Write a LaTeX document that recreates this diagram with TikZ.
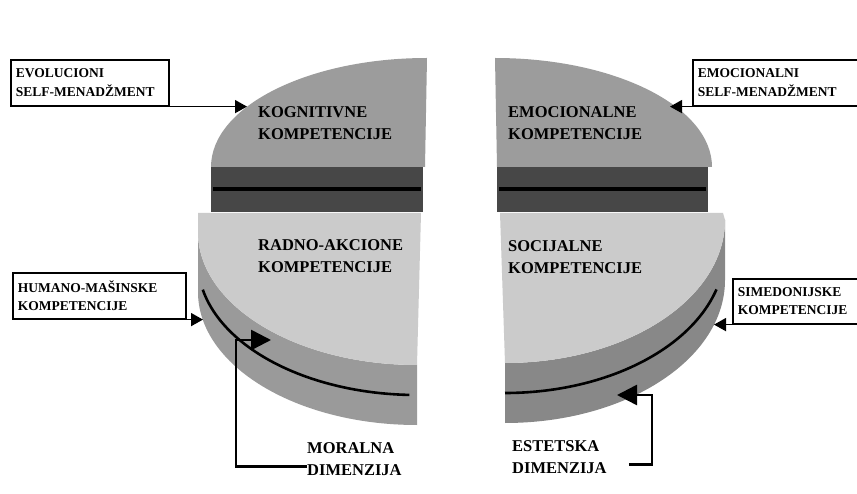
\documentclass[tikz,border=0pt]{standalone}
\usepackage{fontspec}
\setmainfont{Liberation Serif}
\usepackage{tikz}
\usetikzlibrary{arrows.meta, positioning}

\definecolor{backtop}{HTML}{9C9C9C}
\definecolor{backcut}{HTML}{474747}
\definecolor{fronttop}{HTML}{CBCBCB}
\definecolor{frontsideL}{HTML}{9A9A9A}
\definecolor{frontsideR}{HTML}{888888}

\begin{document}
\begin{tikzpicture}[x=1pt, y=-1pt,
    inlabel/.style={align=left, inner sep=0pt, anchor=base west,
        font=\bfseries\fontsize{16.5}{22}\selectfont},
    boxlabel/.style={draw, line width=1.6pt, align=left, anchor=north west,
        inner xsep=5pt, inner ysep=2pt, minimum height=46pt,
        font=\bfseries\fontsize{13.5}{18.5}\selectfont},
    boxarrow/.style={line width=1.6pt, -{Triangle[length=12pt, width=13pt]}},
    dimline/.style={line width=2.6pt, -{Triangle[length=20pt, width=20pt]}},
    rim/.style={line width=2.6pt},
]
\clip (0,0) rectangle (857,494);
\fill[white] (0,0) rectangle (857,494);

% back quarters
\fill[backtop] (425,167) -- (427,58) arc[start angle=270, end angle=180, x radius=216, y radius=109] -- cycle;
\fill[backcut] (211,167) rectangle (423,212);
\draw[rim, line width=3.4pt] (213,189) -- (421,189);

\fill[backtop] (497,167) -- (495,58) arc[start angle=270, end angle=360, x radius=217, y radius=109] -- cycle;
\fill[backcut] (497,167) rectangle (708,212);
\draw[rim, line width=3.4pt] (499,189) -- (706,189);

% front quarters
\fill[frontsideL] (198,232) arc[start angle=180, end angle=90, x radius=219, y radius=133]
    -- (417,425) arc[start angle=90, end angle=180, x radius=219, y radius=133] -- cycle;
\fill[fronttop] (421,213) -- (198,213) -- (198,232)
    arc[start angle=180, end angle=90, x radius=219, y radius=133] -- cycle;
\draw[rim] (417,262) ++(168:219 and 133) arc[start angle=168, end angle=92, x radius=219, y radius=133];

\fill[frontsideR] (725,220) arc[start angle=0, end angle=90, x radius=220, y radius=143]
    -- (505,423) arc[start angle=90, end angle=0, x radius=220, y radius=143] -- cycle;
\fill[fronttop] (500,213) -- (723,213) -- (725,220)
    arc[start angle=0, end angle=90, x radius=220, y radius=143] -- cycle;
\draw[rim] (505,250) ++(90:220 and 143) arc[start angle=90, end angle=16, x radius=220, y radius=143];

% labels on the quarters (base = last line)
\node[inlabel] (kog) at (258,140) {KOGNITIVNE\\KOMPETENCIJE};
\node[inlabel] (emo) at (508,140) {EMOCIONALNE\\KOMPETENCIJE};
\node[inlabel] (radno) at (258,273) {RADNO-AKCIONE\\KOMPETENCIJE};
\node[inlabel] (soc) at (508,274) {SOCIJALNE\\KOMPETENCIJE};

% boxes
\node[boxlabel, text width=148pt] (evol) at (10,59) {EVOLUCIONI\\SELF-MENADŽMENT};
\node[boxlabel, text width=170pt] (emocsm) at (692,59) {EMOCIONALNI\\SELF-MENADŽMENT};
\node[boxlabel, text width=163pt] (humano) at (12,272) {HUMANO-MAŠINSKE\\KOMPETENCIJE};
\node[boxlabel, text width=170pt, minimum height=45pt] (simed) at (732,278) {SIMEDONIJSKE\\KOMPETENCIJE};

\coordinate (kogtip) at (247,105);
\coordinate (emotip) at (670,105);
\coordinate (humtip) at (203,318);
\coordinate (simtip) at (714,323);
\draw[boxarrow] (evol.south east) -- (evol.south east -| kogtip);
\draw[boxarrow] (emocsm.south west) -- (emocsm.south west -| emotip);
\draw[boxarrow] (humano.south east) -- (humano.south east -| humtip);
\draw[boxarrow] (simed.south west) -- (simed.south west -| simtip);

% dimensions
\node[inlabel] (moral) at (307,475) {MORALNA\\DIMENZIJA};
\node[inlabel] (estet) at (512,473) {ESTETSKA\\DIMENZIJA};

\coordinate (mbend) at (236,340);
\coordinate (mtip) at (271,340);
\coordinate (ebend) at (652,395);
\coordinate (etip) at (617,395);
\draw[dimline] ([yshift=-8pt]moral.west) -| (mbend) -- (mtip);
\draw[dimline] ([xshift=22pt, yshift=-8pt]estet.east) -| (ebend) -- (etip);
\end{tikzpicture}
\end{document}
